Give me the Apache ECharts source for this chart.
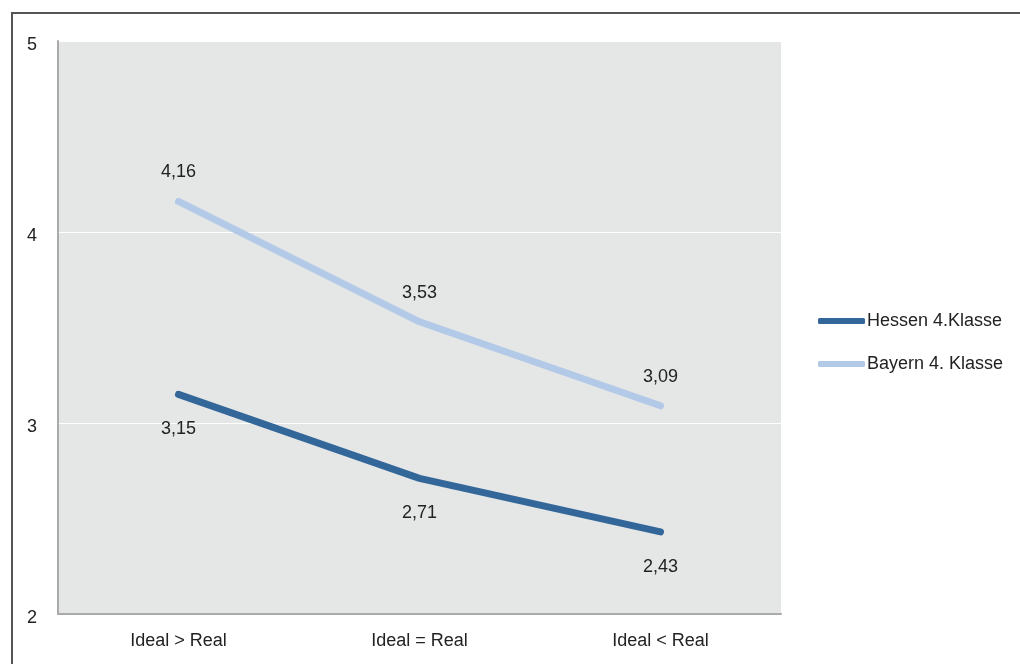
<!DOCTYPE html>
<html>
<head>
<meta charset="utf-8">
<script src="https://cdn.jsdelivr.net/npm/echarts@6/dist/echarts.min.js"></script>
<style>
  html, body { margin: 0; padding: 0; background: #fff; }
  #frame { position: absolute; left: 11px; top: 12px; width: 1009px; height: 652px;
           border-top: 2px solid #555; border-left: 2px solid #555; box-sizing: border-box; }
  #chart { position: absolute; left: 0; top: 0; width: 1020px; height: 664px; }
</style>
</head>
<body>
<div id="frame"></div>
<div id="chart"></div>
<script>
const categories = ['Ideal > Real', 'Ideal = Real', 'Ideal < Real'];
const hessen = [3.15, 2.71, 2.43];
const bayern = [4.16, 3.53, 3.09];
const seriesNames = ['Hessen 4.Klasse', 'Bayern 4. Klasse'];
const colors = ['#336699', '#b3c9e8'];

const FONT = "'Liberation Sans Narrow', 'Arial Narrow', 'Liberation Sans', sans-serif";
const fmt = p => p.value.toFixed(2).replace('.', ',');

const chart = echarts.init(document.getElementById('chart'), null, { renderer: 'canvas' });
chart.setOption({
  animation: false,
  backgroundColor: 'transparent',
  color: colors,
  grid: { left: 58, top: 41, right: 239, bottom: 50, show: true,
          backgroundColor: '#e5e6e6', borderWidth: 0 },
  legend: {
    orient: 'vertical', left: 813, top: 307, itemGap: 25,
    itemWidth: 47, itemHeight: 6, icon: 'roundRect',
    textStyle: { fontFamily: FONT, fontSize: 18, color: '#222', padding: [0, 0, 0, -3] },
    data: seriesNames.map((n, i) => ({ name: n, itemStyle: { color: colors[i], opacity: 1 } }))
  },
  xAxis: {
    type: 'category', data: categories, boundaryGap: true,
    axisLine: { lineStyle: { color: '#aaa', width: 2 } },
    axisTick: { show: false },
    axisLabel: { fontFamily: FONT, fontSize: 18, color: '#222', margin: 18 }
  },
  yAxis: {
    type: 'value', min: 2, max: 5, interval: 1,
    axisLine: { show: true, lineStyle: { color: '#aaa', width: 2 } },
    axisTick: { show: false },
    splitLine: { show: true, lineStyle: { color: '#fff', width: 1 } },
    axisLabel: { margin: 21, formatter: '{v|{value}}',
                 rich: { v: { fontFamily: FONT, fontSize: 18, color: '#222', padding: [8, 0, 0, 0] } } }
  },
  series: [
    {
      name: seriesNames[0], type: 'line', data: hessen,
      symbol: 'circle', symbolSize: 0.01, itemStyle: { color: colors[0] },
      lineStyle: { width: 7, cap: 'round', join: 'round', color: colors[0] },
      label: { show: true, position: 'bottom', distance: 26, formatter: fmt,
               fontFamily: FONT, fontSize: 18, color: '#222' }
    },
    {
      name: seriesNames[1], type: 'line', data: bayern,
      symbol: 'circle', symbolSize: 0.01, itemStyle: { color: colors[1] },
      lineStyle: { width: 7, cap: 'round', join: 'round', color: colors[1] },
      label: { show: true, position: 'top', distance: 20, formatter: fmt,
               fontFamily: FONT, fontSize: 18, color: '#222' }
    }
  ]
});
</script>
</body>
</html>
